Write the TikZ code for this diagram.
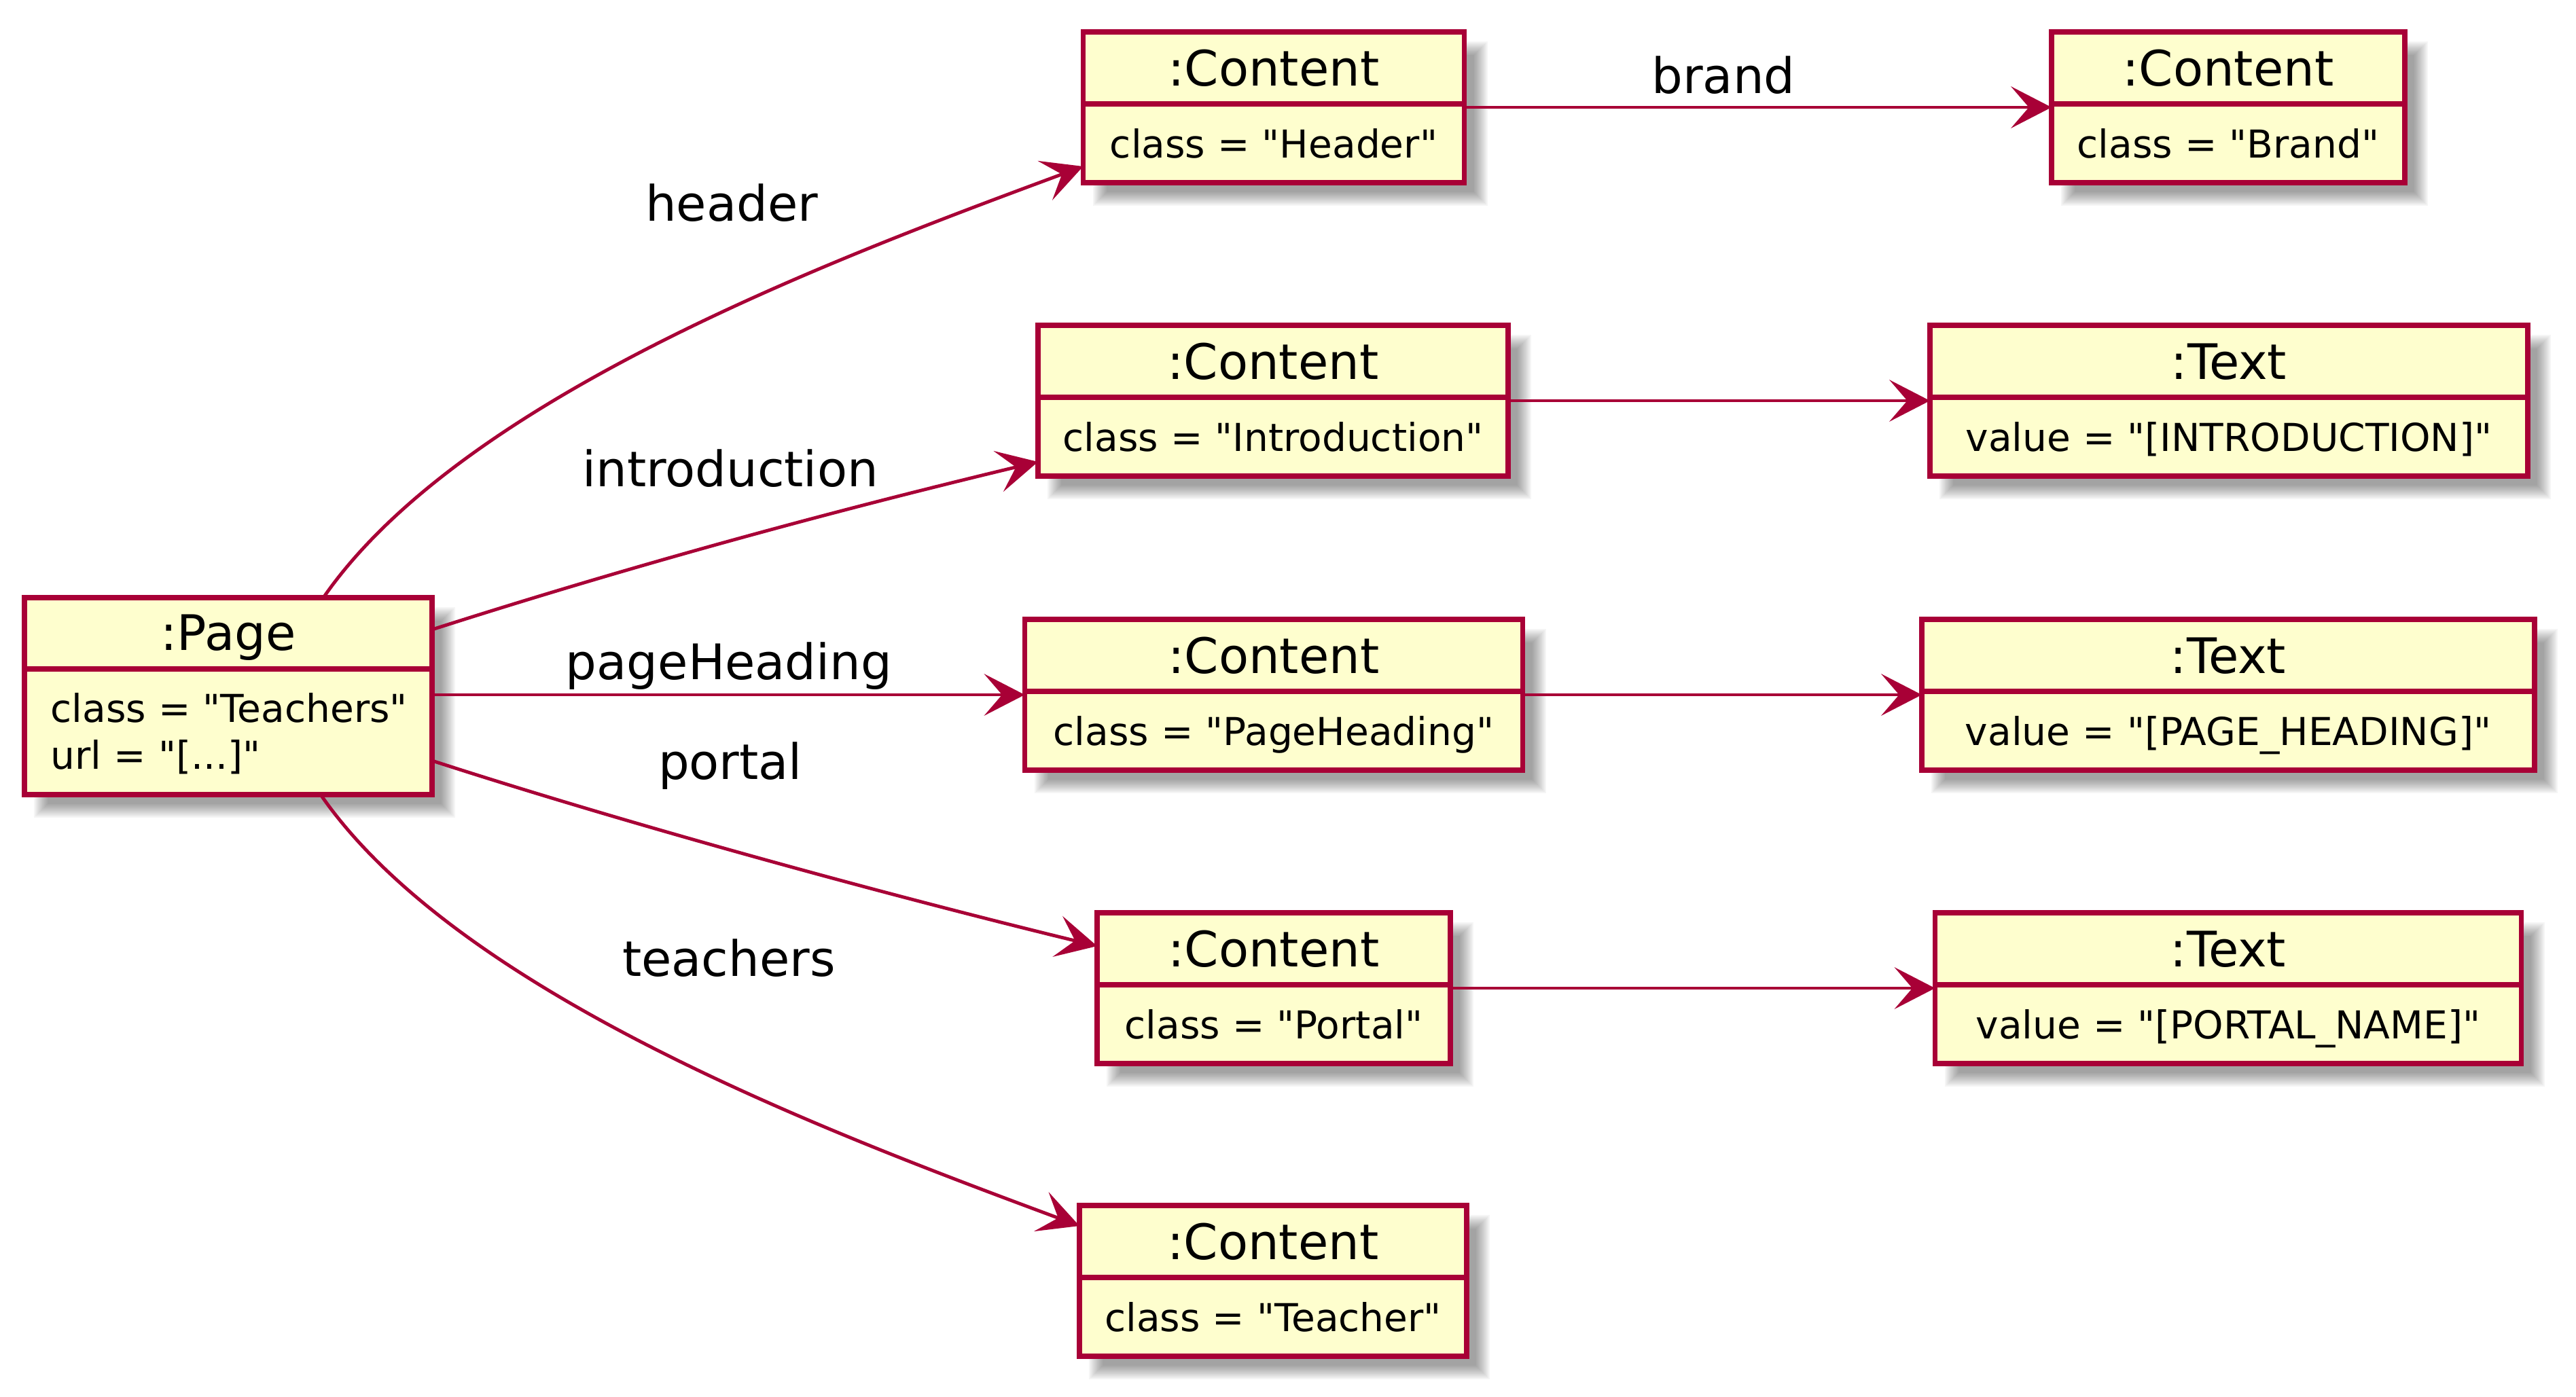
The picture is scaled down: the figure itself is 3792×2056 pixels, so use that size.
\documentclass[tikz,border=0pt]{standalone}
\usepackage{fontspec}
\setmainfont{DejaVu Sans}[Ligatures=TeXOff]
\usetikzlibrary{arrows.meta,calc}
\definecolor{umlred}{HTML}{A80036}
\definecolor{umlfill}{HTML}{FEFECE}
\tikzset{
 objbox/.style={draw=umlred, fill=umlfill, line width=2.1pt, rectangle, inner sep=0pt, outer sep=0pt},
 sepline/.style={draw=umlred, line width=2.1pt},
 titletext/.style={inner sep=0pt, font=\fontsize{20.5pt}{24pt}\selectfont, anchor=base},
 attrtext/.style={inner sep=0pt, font=\fontsize{16.1pt}{19.6pt}\selectfont, anchor=base},
 lbl/.style={inner sep=0pt, font=\fontsize{20.5pt}{24pt}\selectfont, anchor=base},
 conn/.style={draw=umlred, line width=1.4pt, -{Stealth[length=17pt,width=17.5pt,inset=7.5pt]}},
}
% #1 name, #2 centre x, #3 top y, #4 width, #5 height, #6 separator offset
\newcommand\umlshape[6]{%
  \pgfmathsetmacro\oxa{#2-#4/2}%
  \pgfmathsetmacro\oxb{#2+#4/2}%
  \pgfmathsetmacro\oyb{#3+#5}%
  \pgfmathsetmacro\ow{#4*0.01}%
  \pgfmathsetmacro\oh{#5*0.01}%
  \foreach \e in {-10,-8,...,10}
    \fill[black, fill opacity=0.041] (\oxa+24-\e,#3+24-\e) rectangle (\oxb+24+\e,\oyb+24+\e);
  \node[objbox, minimum width=\ow cm, minimum height=\oh cm, anchor=north] (#1) at (#2,#3) {};
  \draw[sepline] (\oxa,#3+#6) -- (\oxb,#3+#6);
}
% #1 name, #2 centre x, #3 top y, #4 width, #5 title, #6 attribute
\newcommand\umlobj[6]{%
  \umlshape{#1}{#2}{#3}{#4}{222}{106}
  \node[titletext] (#1-t) at (#2,#3+79) {#5};
  \node[attrtext] (#1-a) at (#2,#3+185) {#6};
}
\begin{document}
\begin{tikzpicture}[x=0.01cm,y=-0.01cm]
\useasboundingbox (0,0) rectangle (3792,2056);

% Page
\umlshape{page}{336}{880}{600}{290}{105}
\node[titletext] (page-t) at (336,957) {:Page};
\node[attrtext, anchor=base west] (page-a1) at (74,1063) {class = "Teachers"};
\node[attrtext, anchor=base west] (page-a2) at (74,1132) {url = "[...]"};

% Content column
\umlobj{header}{1875}{47}{561}{:Content}{class = "Header"}
\umlobj{intro}{1874}{479}{692}{:Content}{class = "Introduction"}
\umlobj{ph}{1875}{912}{733}{:Content}{class = "PageHeading"}
\umlobj{portal}{1875}{1344}{520}{:Content}{class = "Portal"}
\umlobj{teacher}{1874}{1775}{570}{:Content}{class = "Teacher"}

% Right column
\umlobj{brand}{3280}{47}{520}{:Content}{class = "Brand"}
\umlobj{tintro}{3281}{479}{880}{:Text}{value = "[INTRODUCTION]"}
\umlobj{tph}{3280}{912}{902}{:Text}{value = "[PAGE\_HEADING]"}
\umlobj{tportal}{3280}{1344}{863}{:Text}{value = "[PORTAL\_NAME]"}

% Connectors from page
\draw[conn] ($(page.north)+(140,0)$) .. controls (680,585) and (1230,380) .. ($(header.west)+(0,87)$);
\draw[conn] ($(page.east)+(0,-98)$) .. controls (939,830) and (1228,752) .. ($(intro.west)+(0,90)$);
\draw[conn] (page.east |- ph.west) -- (ph.west);
\draw[conn] ($(page.east)+(0,95)$) .. controls (939,1218) and (1315,1320) .. ($(portal.west)+(0,-62)$);
\draw[conn] ($(page.south)+(136,0)$) .. controls (676,1465) and (1226,1670) .. ($(teacher.west)+(0,-81)$);

% Connectors to right column
\draw[conn] (header.east) -- (brand.west);
\draw[conn] (intro.east) -- (tintro.west);
\draw[conn] (ph.east) -- (tph.west);
\draw[conn] (portal.east) -- (tportal.west);

% Labels
\node[lbl] (l-header) at (1077,325) {header};
\node[lbl] (l-intro) at (1075,716) {introduction};
\node[lbl] (l-ph) at (1073,1000) {pageHeading};
\node[lbl] (l-portal) at (1075,1147) {portal};
\node[lbl] (l-teachers) at (1073,1437) {teachers};
\node[lbl] (l-brand) at (2537,137) {brand};
\end{tikzpicture}
\end{document}
